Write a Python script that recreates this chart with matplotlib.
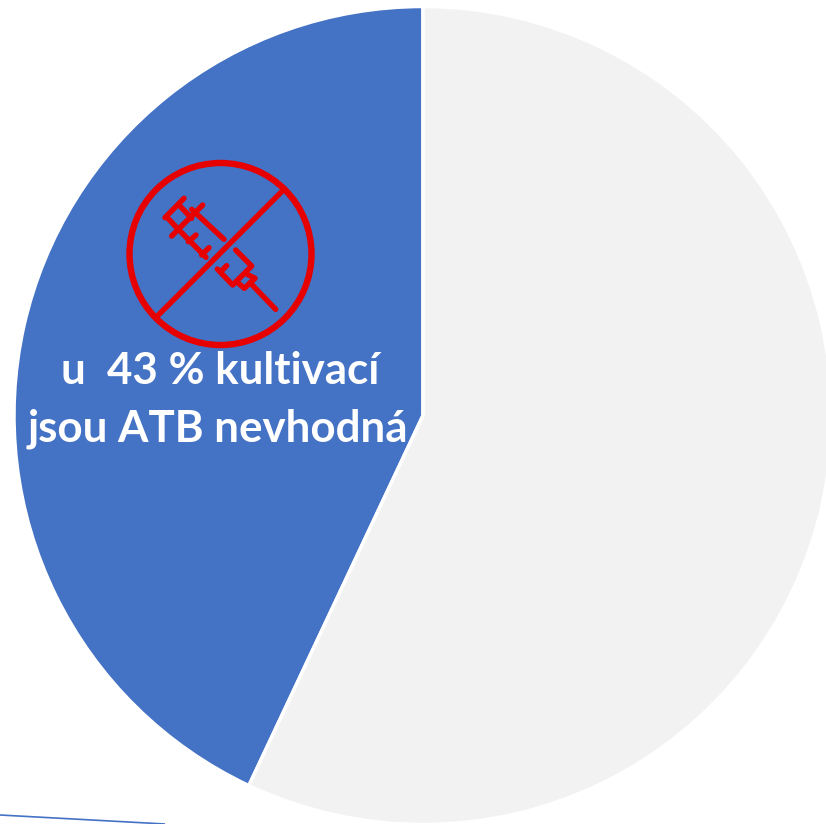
import matplotlib
matplotlib.use("Agg")
import matplotlib.pyplot as plt
from matplotlib.patches import Circle

W, H = 826, 824
shares = [43, 57]
colors = ["#4472C4", "#F2F2F2"]
label_lines = ["u  43 % kultivací", "jsou ATB nevhodná"]

fig = plt.figure(figsize=(W / 100, H / 100), dpi=100)
ax = fig.add_axes([0, 0, 1, 1])

ax.pie(shares, colors=colors, startangle=90, counterclock=True,
       center=(423, H - 415.5), radius=409, frame=True,
       wedgeprops=dict(edgecolor="white", linewidth=2.5))
ax.set_xlim(0, W)
ax.set_ylim(0, H)
ax.set_aspect("equal")
ax.axis("off")

# stray thin line at the bottom edge
ax.plot([0, 165], [H - 815, H - 824], color="#4472C4", lw=1.2, solid_capstyle="butt")

RED = "#E60000"
ax.add_patch(Circle((220.5, H - 254), 91, fill=False, edgecolor=RED, linewidth=4.6))


def z(p):
    """Icon point from zoomed crop coordinates to canvas coordinates."""
    return 110 + p[0] / 3, H - (150 + p[1] / 3)


icon_strokes = [
    [(522, 118), (142, 498)],
    [(222, 145), (165, 203)],
    [(278, 165), (185, 258)],
    [(207, 165), (245, 205)],
    [(172, 203), (207, 240)],
    [(245, 178), (342, 268)],
    [(207, 240), (288, 322)],
    [(258, 255), (235, 275)],
    [(297, 293), (275, 315)],
    [(377, 300), (425, 348), (368, 405), (322, 357)],
    [(350, 347), (335, 362)],
    [(410, 372), (435, 385), (403, 415), (380, 395)],
    [(420, 398), (497, 478)],
]
for stroke in icon_strokes:
    pts = [z(p) for p in stroke]
    ax.plot([p[0] for p in pts], [p[1] for p in pts], color=RED, lw=3.9,
            solid_capstyle="round", solid_joinstyle="round")

for text, px_x, px_y in zip(label_lines, (220, 218), (371, 429)):
    ax.text(px_x, H - px_y, text, color="white",
            family="Lato", weight="bold", fontsize=31.6, ha="center", va="center")

fig.savefig("out.png", dpi=100, facecolor="white")
